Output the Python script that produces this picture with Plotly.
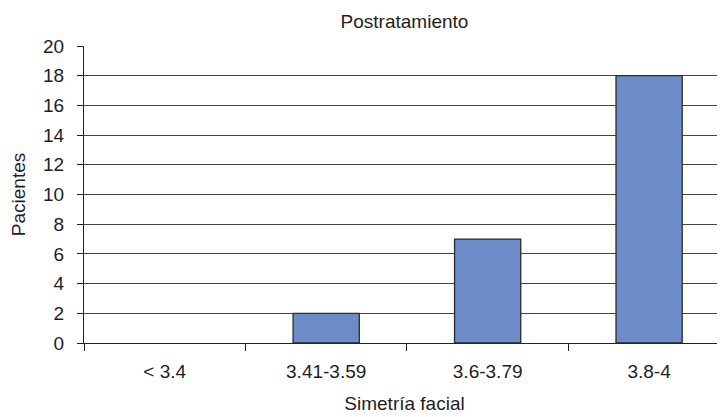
import plotly.graph_objects as go

categories = ["< 3.4", "3.41-3.59", "3.6-3.79", "3.8-4"]
pacientes = [0, 2, 7, 18]
y_ticks = list(range(0, 21, 2))

FONT = "Liberation Sans, Arial, sans-serif"
FS = 19
TXT = "#1e1e1e"

# The page body adds an 8px offset, so the figure is 8px smaller than the window.
W, H = 717, 409

fig = go.Figure(
    go.Bar(
        x=categories,
        y=pacientes,
        width=0.41,
        marker=dict(
            color="#6B8CC8",
            line=dict(color="#2b2b2b", width=[0 if v == 0 else 1.3 for v in pacientes]),
        ),
    )
)

fig.update_layout(
    width=W,
    height=H,
    margin=dict(l=76, r=0, t=38, b=74, autoexpand=False),
    paper_bgcolor="white",
    plot_bgcolor="white",
    font=dict(family=FONT, size=FS, color=TXT),
    showlegend=False,
    title=dict(
        text="Postratamiento",
        x=0.5, xref="paper", xanchor="center",
        y=1 - 13 / H, yref="container", yanchor="middle",
        font=dict(family=FONT, size=FS, color=TXT),
    ),
)

fig.update_xaxes(
    type="category",
    range=[-0.5, 3.47],
    automargin=False,
    showline=True, linecolor="#222", linewidth=1.3,
    ticks="outside", tickson="boundaries", ticklen=7, tickcolor="#222", tickwidth=1.3,
    ticklabelstandoff=11,
    showgrid=False,
    tickfont=dict(family=FONT, size=FS, color=TXT),
    title=dict(text="Simetría facial", standoff=15, font=dict(family=FONT, size=FS, color=TXT)),
)

fig.update_yaxes(
    range=[0, 20],
    tickvals=y_ticks,
    automargin=False,
    showline=True, linecolor="#222", linewidth=1.3,
    ticks="outside", ticklen=6, tickcolor="#222", tickwidth=1.3,
    ticklabelstandoff=9,
    showgrid=True, gridcolor="#444", gridwidth=1.2,
    zeroline=False,
    tickfont=dict(family=FONT, size=FS, color=TXT),
    title=dict(text="Pacientes", standoff=12, font=dict(family=FONT, size=FS, color=TXT)),
)

fig.write_html("out.html")
